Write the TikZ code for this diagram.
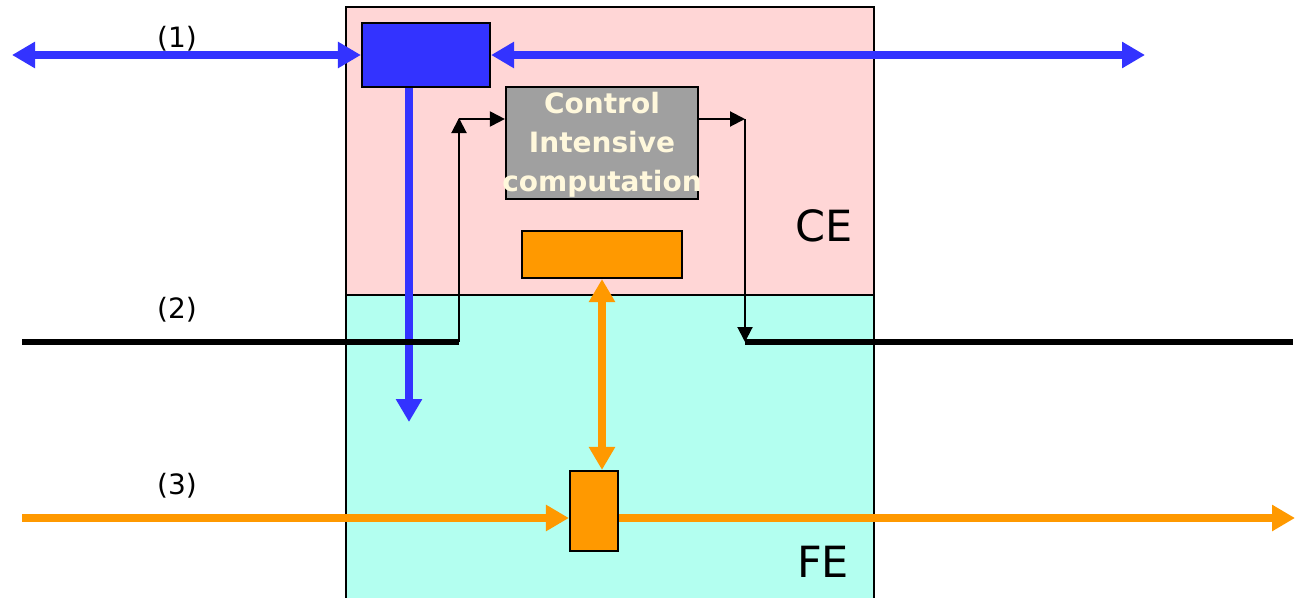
\documentclass[tikz,border=0pt]{standalone}
\usepackage{fontspec}
\setmainfont{DejaVu Sans}
\usetikzlibrary{arrows.meta}
\definecolor{cepink}{RGB}{255,214,214}
\definecolor{fecyan}{RGB}{179,255,240}
\definecolor{fblue}{RGB}{51,51,255}
\definecolor{forange}{RGB}{255,153,0}
\definecolor{ctrlgray}{RGB}{160,160,160}
\definecolor{cream}{RGB}{255,248,220}
\tikzset{
  box/.style={draw=black,line width=2.2pt,inner sep=0pt},
  bluearrow/.style={draw=fblue,line width=8pt,-{Triangle[length=23pt,width=25pt]}},
  bluedbl/.style={draw=fblue,line width=8pt,{Triangle[length=23pt,width=25pt]}-{Triangle[length=23pt,width=25pt]}},
  orangearrow/.style={draw=forange,line width=8pt,-{Triangle[length=23pt,width=25pt]}},
  orangedbl/.style={draw=forange,line width=8pt,{Triangle[length=23pt,width=25pt]}-{Triangle[length=23pt,width=25pt]}},
  thinarrow/.style={draw=black,line width=2pt,-{Triangle[length=15pt,width=15pt]}},
  thickline/.style={draw=black,line width=5.5pt},
  lbl/.style={font=\fontsize{28}{32}\selectfont,inner sep=0pt},
  biglbl/.style={font=\fontsize{43}{50}\selectfont,inner sep=0pt},
}
\begin{document}
\begin{tikzpicture}[x=1pt,y=-1pt]
\useasboundingbox (0,0) rectangle (1295,597);
% regions
\fill[cepink] (346,7) rectangle (874,295);
\fill[fecyan] (346,295) rectangle (874,600);
\draw[line width=2.2pt] (346,600) -- (346,7) -- (874,7) -- (874,600);
\draw[line width=2.2pt] (346,295) -- (874,295);
\node[biglbl] (ce) at (824,226) {CE};
\node[biglbl] (fe) at (823,562) {FE};
% boxes
\node[box,fill=fblue,minimum width=128pt,minimum height=64pt] (bb) at (426,55) {};
\node[box,fill=ctrlgray,minimum width=192pt,minimum height=112pt] (ctrl) at (602,143) {};
\node[font=\bfseries\fontsize{28}{39}\selectfont,text=cream,align=center,inner sep=0pt] (ctrltxt) at (602,145) {Control\\Intensive\\computation};
\node[box,fill=forange,minimum width=160pt,minimum height=47pt] (ob) at (602,254.5) {};
\node[box,fill=forange,minimum width=48pt,minimum height=80pt] (sb) at (594,511) {};
% coordinates
\coordinate (l1) at (12,55);
\coordinate (r1) at (1145,55);
\coordinate (bdown) at (409,422);
\coordinate (l2) at (22,342);
\coordinate (c2a) at (459,342);
\coordinate (c2b) at (459,119);
\coordinate (c2c) at (745,119);
\coordinate (c2d) at (745,342);
\coordinate (r2) at (1293,342);
\coordinate (l3) at (22,518);
\coordinate (r3) at (1295,518);
% labels
\node[lbl] (t1) at (177,39) {(1)};
\node[lbl] (t2) at (177,310) {(2)};
\node[lbl] (t3) at (177,486) {(3)};
% (1) blue
\draw[bluedbl] (l1) -- (bb.west);
\draw[bluedbl] (bb.east |- r1) -- (r1);
\draw[bluearrow] (bb.south -| bdown) -- (bdown);
% (2) black
\draw[thickline] (l2) -- (c2a);
\draw[thickline] (c2d) -- (r2);
\draw[line width=2pt] (c2a) -- (c2b);
\draw[thinarrow] (459,200) -- ([yshift=1pt]c2b);
\draw[thinarrow] (c2b) -- (ctrl.west |- c2b);
\draw[thinarrow] (ctrl.east |- c2c) -- (c2c);
\draw[thinarrow] (c2c) -- (c2d);
% (3) orange
\draw[orangedbl] (ob.south) -- (sb.north -| ob.south);
\draw[orangearrow] (l3) -- (sb.west |- l3);
\draw[orangearrow] (sb.east |- r3) -- (r3);
\end{tikzpicture}
\end{document}
